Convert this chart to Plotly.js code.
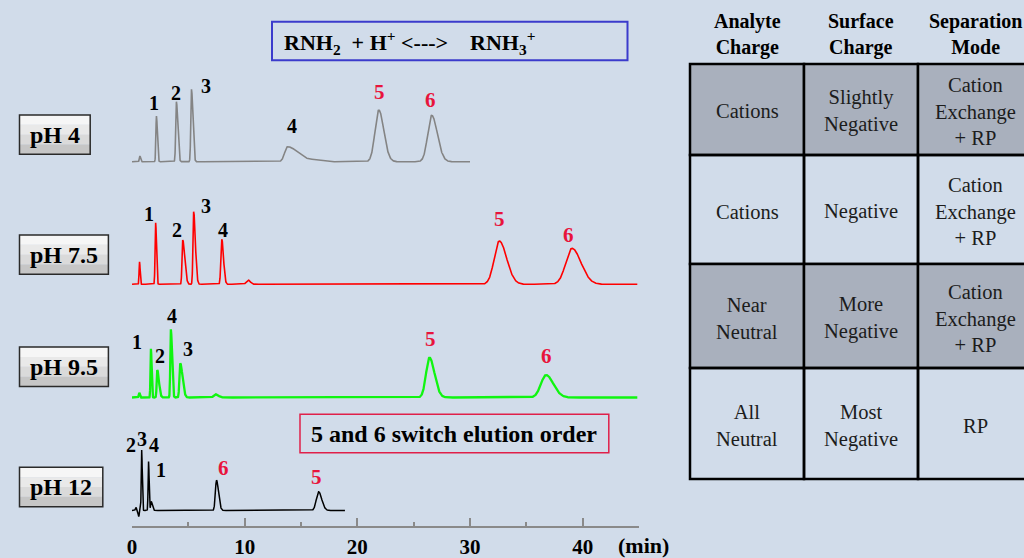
<!DOCTYPE html>
<html>
<head>
<meta charset="utf-8">
<script src="https://cdn.plot.ly/plotly-3.0.1.min.js"></script>
<style>html,body{margin:0;padding:0;background:#d1dcea;}#chart{width:1024px;height:558px;}</style>
</head>
<body>
<div id="chart"></div>
<script>
// ---------------- DATA ----------------
// retention times (min), peak heights (relative units), left/right peak widths (min), peak labels
const pH4_rt  = [0.7, 2.17, 3.94, 5.28, 13.8, 16.2, 21.9, 26.6];
const pH4_h   = [5.7, 45.7, 60.0, 72.4, 15.0, 1.5, 51.7, 46.4];
const pH4_sL  = [0.05, 0.05, 0.06, 0.06, 0.25, 0.5, 0.33, 0.35];
const pH4_sR  = [0.06, 0.08, 0.12, 0.12, 0.95, 0.6, 0.45, 0.5];
const pH4_lab = ['', '1', '2', '3', '4', '', '5', '6'];
const pH4_end = 30;

const pH75_rt  = [0.67, 2.1, 4.5, 5.47, 7.97, 10.3, 32.6, 39.05];
const pH75_h   = [22.6, 61.6, 44.3, 72.6, 45.0, 4.3, 43.3, 36.0];
const pH75_sL  = [0.04, 0.05, 0.06, 0.06, 0.08, 0.15, 0.45, 0.55];
const pH75_sR  = [0.05, 0.07, 0.18, 0.15, 0.15, 0.2, 0.65, 0.8];
const pH75_lab = ['', '1', '2', '3', '4', '', '5', '6'];
const pH75_end = 44.85;

const pH95_rt  = [0.65, 1.68, 2.24, 3.45, 4.28, 7.4, 26.4, 36.75];
const pH95_h   = [4.8, 48.8, 27.5, 68.2, 34.2, 3.2, 39.8, 22.5];
const pH95_sL  = [0.05, 0.04, 0.05, 0.05, 0.07, 0.15, 0.3, 0.45];
const pH95_sR  = [0.05, 0.06, 0.15, 0.1, 0.2, 0.25, 0.45, 0.65];
const pH95_lab = ['', '1', '2', '4', '3', '', '5', '6'];
const pH95_end = 44.85;

const pH12_rt  = [0.35, 0.6, 0.86, 1.47, 1.7, 7.5, 16.56];
const pH12_h   = [3.0, -6.0, 60.5, 49.0, 9.0, 30.2, 18.8];
const pH12_sL  = [0.05, 0.04, 0.04, 0.04, 0.05, 0.1, 0.2];
const pH12_sR  = [0.05, 0.04, 0.05, 0.05, 0.1, 0.18, 0.28];
const pH12_lab = ['', '', '2,3,4', '1', '', '6', '5'];
const pH12_end = 18.9;

const condLabels = ['pH 4', 'pH 7.5', 'pH 9.5', 'pH 12'];
const xTickVals = [0, 10, 20, 30, 40];
const xUnit = '(min)';
const equationText = 'RNH<sub>2</sub>&nbsp; + H<sup>+</sup> &lt;---&gt;&nbsp;&nbsp;&nbsp; RNH<sub>3</sub><sup>+</sup>';
const noteText = '5 and 6 switch elution order';

const tableHeader    = ['Analyte<br>Charge', 'Surface<br>Charge', 'Separation<br>Mode'];
const analyteCharge  = ['Cations', 'Cations', 'Near<br>Neutral', 'All<br>Neutral'];
const surfaceCharge  = ['Slightly<br>Negative', 'Negative', 'More<br>Negative', 'Most<br>Negative'];
const separationMode = ['Cation<br>Exchange<br>+ RP', 'Cation<br>Exchange<br>+ RP', 'Cation<br>Exchange<br>+ RP', 'RP'];

// ---------------- LAYOUT HELPERS ----------------
const W = 1024, H = 558;
const fx = v => v / W;
const fy = v => 1 - v / H;
const SERIF = 'Liberation Serif, Times New Roman, serif';
const RED = '#e8143c';

function curve(rt, h, sL, sR, tEnd) {
  const x = [], y = [];
  const n = Math.round(tEnd / 0.01);
  for (let i = 0; i <= n; i++) {
    const t = i * 0.01;
    let v = 0;
    for (let k = 0; k < rt.length; k++) {
      const s = t < rt[k] ? sL[k] : sR[k];
      const z = (t - rt[k]) / s;
      if (Math.abs(z) < 12) v += h[k] * Math.exp(-0.5 * z * z);
    }
    x.push(t); y.push(v);
  }
  return {x, y};
}

const series = [
  {rt: pH4_rt,  h: pH4_h,  sL: pH4_sL,  sR: pH4_sR,  lab: pH4_lab,  end: pH4_end,  axis: 'y4', base: 161.7, color: '#848484', width: 1.6,
   box: [19.5, 90.2, 115, 154.3],
   off: {'1': [-2, 13], '2': [0, 9], '3': [15, 3], '4': [5, 21], '5': [1, 18], '6': [-1, 15]}},
  {rt: pH75_rt, h: pH75_h, sL: pH75_sL, sR: pH75_sR, lab: pH75_lab, end: pH75_end, axis: 'y3', base: 284.3, color: '#ff0000', width: 1.6,
   box: [19.5, 108.4, 235, 274.3],
   off: {'1': [-7, 9], '2': [-6, 10], '3': [12.5, 6], '4': [1.5, 9], '5': [0, 22], '6': [-3, 13]}},
  {rt: pH95_rt, h: pH95_h, sL: pH95_sL, sR: pH95_sR, lab: pH95_lab, end: pH95_end, axis: 'y2', base: 397.5, color: '#10f510', width: 2.3,
   box: [19.5, 108.4, 347, 386.5],
   off: {'1': [-14, 7], '2': [3, 14], '4': [1, 13], '3': [8, 14], '5': [1, 19], '6': [0, 19]}},
  {rt: pH12_rt, h: pH12_h, sL: pH12_sL, sR: pH12_sR, lab: pH12_lab, end: pH12_end, axis: 'y', base: 510.5, color: '#000000', width: 1.5,
   box: [19.5, 102.8, 467.3, 506.7],
   off: {'2': [-11, 5], '3': [0, 11], '4': [12, 5], '1': [12, -8], '6': [7, 12], '5': [-2, 15]}}
];

const traces = [];
const annotations = [];
const shapes = [];
const layout = {
  width: W, height: H,
  margin: {l: 0, r: 0, t: 0, b: 0},
  paper_bgcolor: '#d1dcea',
  plot_bgcolor: 'rgba(0,0,0,0)',
  showlegend: false,
  xaxis: {
    domain: [fx(132), fx(639)], range: [0, 45],
    anchor: 'free', position: fy(526.7),
    showline: true, linecolor: '#8a8a8a', linewidth: 2,
    ticks: 'inside', ticklen: 8, tickwidth: 2, tickcolor: '#8a8a8a',
    tickmode: 'array', tickvals: xTickVals, ticktext: xTickVals.map(String),
    minor: {dtick: 5, tick0: 0, ticks: 'inside', ticklen: 4, tickwidth: 2, tickcolor: '#8a8a8a', showgrid: false},
    showgrid: false, zeroline: false,
    tickfont: {family: SERIF, size: 21, color: '#000', weight: 'bold'},
    ticklabelstandoff: 1
  }
};

series.forEach((s, i) => {
  const c = curve(s.rt, s.h, s.sL, s.sR, s.end);
  traces.push({x: c.x, y: c.y, type: 'scatter', mode: 'lines', xaxis: 'x', yaxis: s.axis,
               line: {color: s.color, width: s.width}, hoverinfo: 'skip'});
  const axName = s.axis === 'y' ? 'yaxis' : 'yaxis' + s.axis.slice(1);
  layout[axName] = {domain: [fy(s.base + 10), fy(s.base - 90)], range: [-10, 90], visible: false, anchor: 'x', fixedrange: true};
  // peak labels
  s.lab.forEach((l, k) => {
    if (!l) return;
    l.split(',').forEach(part => {
      const o = s.off[part] || [0, 14];
      const isRed = part === '5' || part === '6';
      annotations.push({x: s.rt[k], y: s.h[k], xref: 'x', yref: s.axis, text: part, showarrow: false,
        xshift: o[0], yshift: o[1], xanchor: 'center', yanchor: 'middle',
        font: {family: SERIF, size: isRed ? 21 : 20, color: isRed ? RED : '#000', weight: 'bold'}});
    });
  });
  // condition button
  const b = s.box;
  const bands = ['#f6f6f6', '#e9e9e9', '#dadada', '#c6c6c6'];
  bands.forEach((col, j) => {
    const y0 = b[2] + (b[3] - b[2]) * j / bands.length;
    const y1 = b[2] + (b[3] - b[2]) * (j + 1) / bands.length;
    shapes.push({type: 'rect', xref: 'paper', yref: 'paper', x0: fx(b[0]), x1: fx(b[1]), y0: fy(y1), y1: fy(y0),
                 fillcolor: col, line: {width: 0}, layer: 'below'});
  });
  shapes.push({type: 'rect', xref: 'paper', yref: 'paper', x0: fx(b[0]), x1: fx(b[1]), y0: fy(b[3]), y1: fy(b[2]),
               fillcolor: 'rgba(0,0,0,0)', line: {color: '#2a2a2a', width: 1.5}, layer: 'below'});
  annotations.push({x: fx((b[0] + b[1]) / 2), y: fy((b[2] + b[3]) / 2), xref: 'paper', yref: 'paper', text: condLabels[i],
    showarrow: false, xanchor: 'center', yanchor: 'middle', font: {family: SERIF, size: 24, color: '#000', weight: 'bold'}});
});

// x unit
annotations.push({x: fx(643), y: fy(545), xref: 'paper', yref: 'paper', text: xUnit, showarrow: false,
  xanchor: 'center', yanchor: 'middle', font: {family: SERIF, size: 22, color: '#000', weight: 'bold'}});

// equation box
shapes.push({type: 'rect', xref: 'paper', yref: 'paper', x0: fx(272), x1: fx(627.5), y0: fy(60.3), y1: fy(21.7),
             line: {color: '#3b3bcc', width: 2}, fillcolor: 'rgba(0,0,0,0)'});
annotations.push({x: fx(282), y: fy(42), xref: 'paper', yref: 'paper', text: equationText, showarrow: false,
  xanchor: 'left', yanchor: 'middle', font: {family: SERIF, size: 22, color: '#000', weight: 'bold'}});

// note box
shapes.push({type: 'rect', xref: 'paper', yref: 'paper', x0: fx(300), x1: fx(608.8), y0: fy(452.7), y1: fy(414.3),
             line: {color: '#e0204a', width: 1.5}, fillcolor: 'rgba(0,0,0,0)'});
annotations.push({x: fx(454), y: fy(434), xref: 'paper', yref: 'paper', text: noteText, showarrow: false,
  xanchor: 'center', yanchor: 'middle', font: {family: SERIF, size: 24, color: '#000', weight: 'bold'}});

// table
const colEdges = [690, 804, 918, 1032];
const rowEdges = [64, 155, 264, 368, 479];
const shaded = [true, false, true, false];
const columns = [analyteCharge, surfaceCharge, separationMode];
tableHeader.forEach((txt, c) => {
  annotations.push({x: fx((colEdges[c] + colEdges[c + 1]) / 2), y: fy(34.5), xref: 'paper', yref: 'paper', text: txt,
    showarrow: false, xanchor: 'center', yanchor: 'middle',
    font: {family: SERIF, size: 20, color: '#000', weight: 'bold'}});
});
for (let r = 0; r < 4; r++) {
  for (let c = 0; c < 3; c++) {
    shapes.push({type: 'rect', xref: 'paper', yref: 'paper',
      x0: fx(colEdges[c]), x1: fx(colEdges[c + 1]), y0: fy(rowEdges[r + 1]), y1: fy(rowEdges[r]),
      fillcolor: shaded[r] ? '#a9b0bd' : 'rgba(0,0,0,0)', line: {color: '#000', width: 2.5}});
    annotations.push({x: fx((colEdges[c] + colEdges[c + 1]) / 2), y: fy((rowEdges[r] + rowEdges[r + 1]) / 2 + 2),
      xref: 'paper', yref: 'paper', text: columns[c][r], showarrow: false, xanchor: 'center', yanchor: 'middle',
      font: {family: SERIF, size: 20.5, color: '#1c1c1c'}});
  }
}

layout.annotations = annotations;
layout.shapes = shapes;

Plotly.newPlot('chart', traces, layout, {staticPlot: true, displayModeBar: false});
</script>
</body>
</html>
